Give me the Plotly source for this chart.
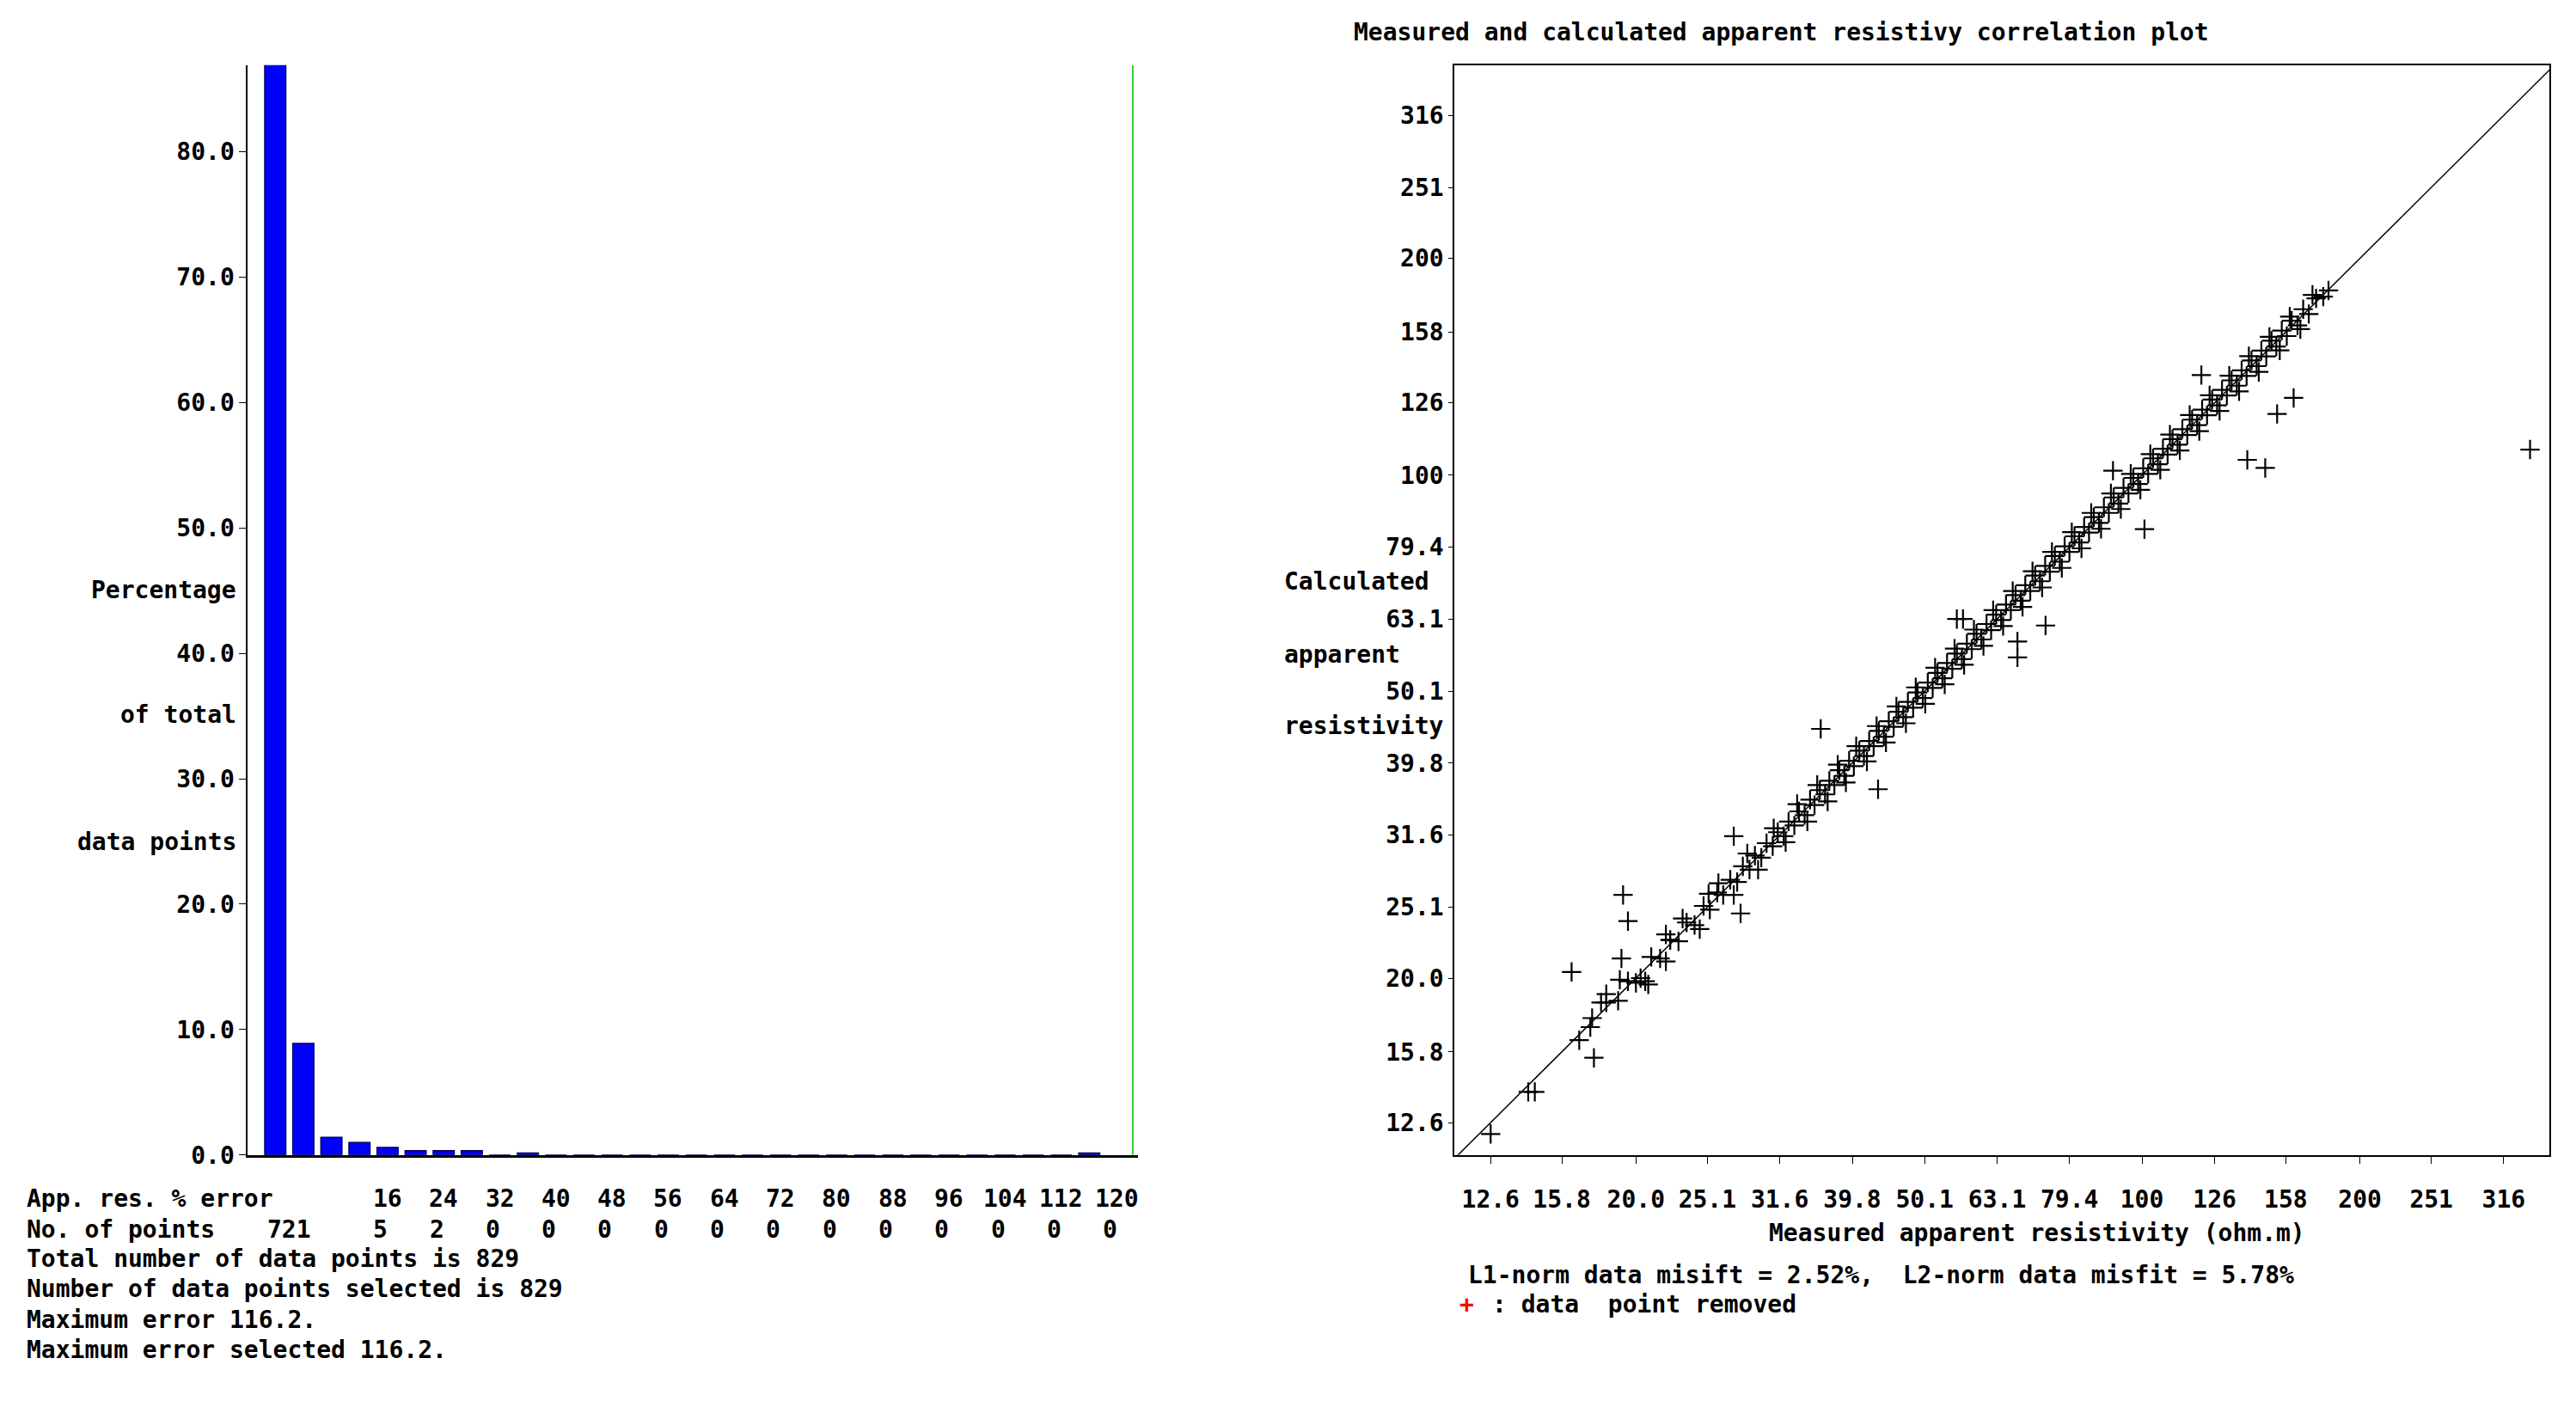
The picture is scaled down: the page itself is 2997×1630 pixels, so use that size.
import plotly.graph_objects as go

# ---------------- data ----------------
err_bins = [0, 4, 8, 12, 16, 20, 24, 28, 32, 36, 40, 44, 48, 52, 56, 60, 64, 68, 72, 76, 80, 84, 88, 92, 96, 100, 104, 108, 112, 116]
err_pct = [87.0, 8.9, 1.4, 1.0, 0.6, 0.35, 0.35, 0.35, 0, 0.15, 0, 0, 0, 0, 0, 0, 0, 0, 0, 0, 0, 0, 0, 0, 0, 0, 0, 0, 0, 0.15]
hist_yticks = [0, 10, 20, 30, 40, 50, 60, 70, 80]
err_labels = ["16", "24", "32", "40", "48", "56", "64", "72", "80", "88", "96", "104", "112", "120"]
err_label_pos = [16, 24, 32, 40, 48, 56, 64, 72, 80, 88, 96, 104, 112, 120]
npts_labels = ["721", "5", "2", "0", "0", "0", "0", "0", "0", "0", "0", "0", "0", "0", "0"]
npts_pos = [2, 15, 23, 31, 39, 47, 55, 63, 71, 79, 87, 95, 103, 111, 119]
info_lines = ["Total number of data points is 829", "Number of data points selected is 829",
              "Maximum error 116.2.", "Maximum error selected 116.2."]

measured = [18.2,18.9,19.5,20.3,21.0,21.6,22.3,22.9,23.5,24.1,24.8,25.3,25.9,26.4,27.0,27.6,28.1,28.7,29.2,29.8,
            30.3,30.9,31.4,32.0,32.5,33.1,33.6,34.2,34.8,35.3,35.9,36.5,37.0,37.6,38.2,38.8,39.4,40.0,40.7,41.3,
            42.0,42.6,43.3,44.0,44.7,45.4,46.1,46.8,47.5,48.3,49.0,49.8,50.6,51.4,52.2,53.0,53.8,54.7,55.5,56.4,
            57.3,58.2,59.1,60.0,61.0,61.9,62.9,63.9,64.9,65.9,66.9,68.0,69.0,70.1,71.2,72.3,73.5,74.6,75.8,77.0,
            78.2,79.4,80.7,81.9,83.2,84.5,85.8,87.2,88.6,90.0,91.4,92.8,94.3,95.8,97.3,98.8,100.4,102.0,103.6,105.2,
            106.9,108.5,110.2,112.0,113.7,115.5,117.3,119.2,121.1,123.0,125.0,127.0,129.0,131.0,133.0,135.2,137.3,139.5,141.7,144.0,
            146.2,148.5,151.0,153.3,156.0,158.5,161.0,164.0,167.0,170.0,174.0,178.0,181.0,
            19.0,20.6,22.0,23.2,24.5,26.0,27.3,28.5,29.5,31.0,32.2,33.4,34.5,35.6,36.8,38.0,39.0,40.3,41.7,43.0,
            44.3,45.8,47.2,48.7,50.2,51.8,53.4,55.1,56.8,58.6,60.4,62.3,64.3,66.3,68.4,70.6,72.8,75.1,77.5,80.0,
            82.5,85.1,87.8,90.6,93.5,96.5,99.5,102.7,106.0,109.3,112.8,116.4,120.0,124.0,128.0,132.0,136.2,140.5,145.0,150.0,
            155.0,160.0,165.5,172.0,
            12.6,14.2,14.5,16.3,16.7,17.5,17.3,17.4,17.9,18.2,19.2,19.5,19.1,20.0,20.8,22.0,22.3,25.2,27.3,27.9,
            36.0,43.2,55.5,56.6,67.3,67.3,73.6,91.2,100.8,120.8,139.8,148.0,153.7,162.0,343.6]
calculated = [18.5,18.6,19.8,20.0,21.4,21.3,22.6,22.5,23.9,23.7,25.2,24.9,26.3,26.1,27.4,27.2,28.6,28.3,29.6,29.4,
              30.8,30.5,31.9,31.5,33.0,32.6,34.1,33.7,35.4,34.8,36.5,36.0,37.6,37.1,38.9,38.2,40.1,39.4,41.4,40.7,
              42.7,42.0,44.1,43.3,45.5,44.7,46.9,46.1,48.4,47.5,49.9,49.0,51.5,50.6,53.1,52.2,54.8,53.8,56.5,55.5,
              58.3,57.3,60.2,59.1,62.1,60.9,64.0,62.9,66.1,64.9,68.1,66.9,70.3,69.0,72.5,71.2,74.8,73.4,77.2,75.8,
              79.6,78.2,82.2,80.6,84.7,83.2,87.4,85.8,90.2,88.6,93.1,91.3,96.0,94.3,99.1,97.2,102.2,100.4,105.5,103.5,
              108.8,106.8,112.2,110.2,115.8,113.7,119.4,117.3,123.3,121.1,127.3,125.0,131.3,129.0,135.4,133.1,139.8,137.3,144.3,141.7,
              148.9,146.2,153.7,150.9,158.8,156.0,163.9,161.4,170.0,167.4,176.0,177.0,180.5,
              19.9,19.8,21.1,24.2,23.4,27.1,26.1,29.8,28.3,32.3,30.9,34.9,33.0,37.1,35.2,39.6,37.4,42.0,40.0,44.8,
              42.5,47.7,45.2,50.7,48.1,54.0,51.2,57.4,54.5,61.0,57.9,64.9,61.7,69.0,65.6,73.5,69.8,78.2,74.3,83.3,
              79.1,88.6,84.2,94.3,89.7,100.4,95.4,106.9,101.7,113.8,108.2,121.2,115.1,129.1,122.8,137.4,130.7,146.3,139.1,155.6,
              149.0,166.0,159.5,178.0,
              12.15,13.9,13.9,20.4,16.4,15.5,17.1,17.6,18.5,19.0,26.1,24.0,21.3,19.7,19.6,23.0,22.6,26.2,31.5,24.6,
              44.4,36.6,63.1,63.1,58.7,55.8,61.8,101.4,84.1,137.7,105.0,102.3,121.6,128.0,108.5]
res_ticks = [12.6, 15.8, 20.0, 25.1, 31.6, 39.8, 50.1, 63.1, 79.4, 100, 126, 158, 200, 251, 316]
res_tick_text = ["12.6", "15.8", "20.0", "25.1", "31.6", "39.8", "50.1", "63.1", "79.4", "100", "126", "158", "200", "251", "316"]
diag = [10, 400]

# ---------------- figure ----------------
FONT = "DejaVu Sans Mono"
FS = 28
W, H = 2981, 1614
S = 1.91
OFF = 8

def px(x):
    return (x * S - OFF) / W

def py(y):
    return 1 - (y * S - OFF) / H

fig = go.Figure()
fig.add_trace(go.Bar(x=err_bins, y=err_pct, width=3, marker=dict(color="#0000ff", line=dict(color="#000060", width=1.5)),
                     xaxis="x", yaxis="y", showlegend=False))
fig.add_trace(go.Scatter(x=[122.2, 122.2], y=[0, 86.9], mode="lines", line=dict(color="#33cc33", width=2),
                         xaxis="x", yaxis="y", showlegend=False))
fig.add_trace(go.Scatter(x=diag, y=diag, mode="lines", line=dict(color="black", width=1.5),
                         xaxis="x2", yaxis="y2", showlegend=False))
fig.add_trace(go.Scatter(x=measured, y=calculated, mode="markers",
                         marker=dict(symbol="cross-thin", size=16, line=dict(color="black", width=2.2)),
                         xaxis="x2", yaxis="y2", showlegend=False))

tickfont = dict(family=FONT, size=FS, color="black", weight="bold")
fig.update_layout(
    width=W, height=H, margin=dict(l=0, r=0, t=0, b=0),
    paper_bgcolor="white", plot_bgcolor="white", font=dict(family=FONT, size=FS, color="black"),
    xaxis=dict(domain=[px(151), px(693)], range=[-3.9, 122.9], showticklabels=False, ticks="",
               showgrid=False, zeroline=False, showline=True, linecolor="black", linewidth=3, anchor="y"),
    yaxis=dict(domain=[py(711), py(40)], range=[0, 86.9], tickvals=hist_yticks,
               ticktext=[f"{v:.1f}" for v in hist_yticks], ticks="outside", ticklen=8, tickcolor="black",
               tickfont=tickfont, showgrid=False, zeroline=False, showline=True, linecolor="black", linewidth=2,
               anchor="x"),
    xaxis2=dict(domain=[px(886), px(1553)], type="log", range=[1.0505, 2.563], tickvals=res_ticks,
                ticktext=res_tick_text, ticks="outside", ticklen=8, tickcolor="black", tickfont=tickfont,
                ticklabelstandoff=18, showgrid=False, zeroline=False, showline=True, mirror=True,
                linecolor="black", linewidth=2, anchor="y2"),
    yaxis2=dict(domain=[py(711), py(40)], type="log", range=[1.0553, 2.5697], tickvals=res_ticks,
                ticktext=res_tick_text, ticks="outside", ticklen=5, tickcolor="black", tickfont=tickfont,
                showgrid=False, zeroline=False, showline=True, mirror=True, linecolor="black", linewidth=2,
                anchor="x2"),
)

ann = []
def txt(x, y, s, xanchor="left", color="black"):
    ann.append(dict(x=px(x), y=py(y), xref="paper", yref="paper", text=s, showarrow=False, xanchor=xanchor,
                    yanchor="middle", font=dict(family=FONT, size=FS, color=color, weight="bold")))

txt(145, 363, "Percentage", "right")
txt(145, 440, "of total", "right")
txt(145, 518, "data points", "right")
txt(15, 738, "App. res. % error")
txt(15, 757, "No. of points")
for lab, pos in zip(err_labels, err_label_pos):
    ann.append(dict(x=pos, y=py(738), xref="x", yref="paper", text=lab, showarrow=False, xanchor="center",
                    yanchor="middle", font=dict(family=FONT, size=FS, weight="bold")))
for lab, pos in zip(npts_labels, npts_pos):
    ann.append(dict(x=pos, y=py(757), xref="x", yref="paper", text=lab, showarrow=False, xanchor="center",
                    yanchor="middle", font=dict(family=FONT, size=FS, weight="bold")))
for i, line in enumerate(info_lines):
    txt(15, 775 + 18.6 * i, line)

txt(1085, 20, "Measured and calculated apparent resistivy correlation plot", "center")
txt(781, 358, "Calculated")
txt(781, 403, "apparent")
txt(781, 447, "resistivity")
txt(1241, 759, "Measured apparent resistivity (ohm.m)", "center")
txt(893, 785, "L1-norm data misift = 2.52%,  L2-norm data misfit = 5.78%")
txt(888, 803, "+", color="red")
txt(908, 803, ": data  point removed")

fig.update_layout(annotations=ann)
fig.write_html("out.html")
